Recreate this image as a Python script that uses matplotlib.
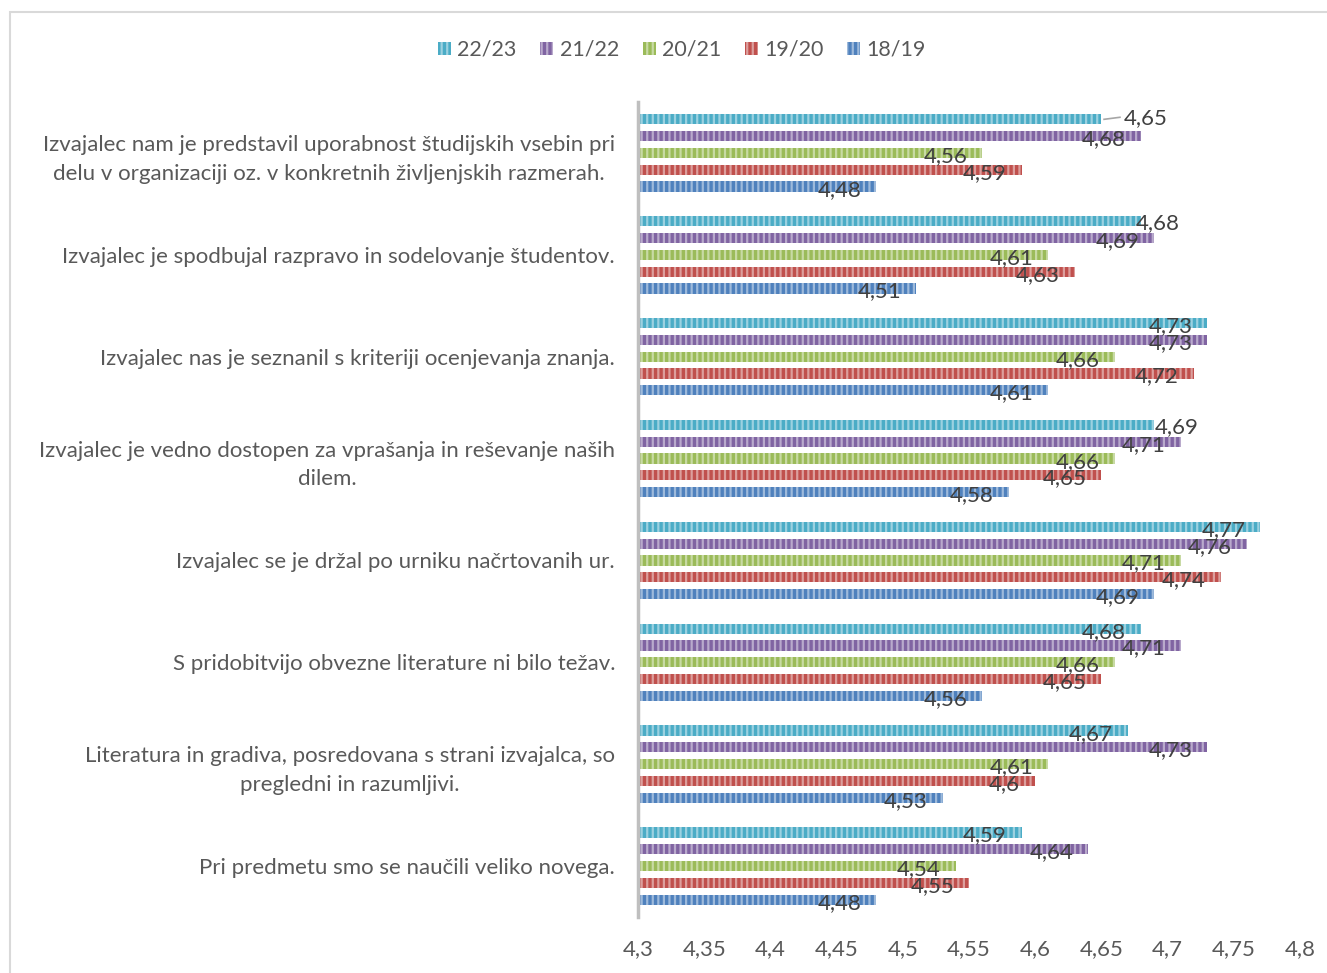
import matplotlib
matplotlib.use("Agg")
import matplotlib.pyplot as plt
from matplotlib.patches import Rectangle, Patch

# data
categories = [
    "Izvajalec nam je predstavil uporabnost študijskih vsebin pri\ndelu v organizaciji oz. v konkretnih življenjskih razmerah.",
    "Izvajalec je spodbujal razpravo in sodelovanje študentov.",
    "Izvajalec nas je seznanil s kriteriji ocenjevanja znanja.",
    "Izvajalec je vedno dostopen za vprašanja in reševanje naših\ndilem.",
    "Izvajalec se je držal po urniku načrtovanih ur.",
    "S pridobitvijo obvezne literature ni bilo težav.",
    "Literatura in gradiva, posredovana s strani izvajalca, so\npregledni in razumljivi.",
    "Pri predmetu smo se naučili veliko novega.",
]
series = ["22/23", "21/22", "20/21", "19/20", "18/19"]
v_2223 = [4.65, 4.68, 4.73, 4.69, 4.77, 4.68, 4.67, 4.59]
v_2122 = [4.68, 4.69, 4.73, 4.71, 4.76, 4.71, 4.73, 4.64]
v_2021 = [4.56, 4.61, 4.66, 4.66, 4.71, 4.66, 4.61, 4.54]
v_1920 = [4.59, 4.63, 4.72, 4.65, 4.74, 4.65, 4.60, 4.55]
v_1819 = [4.48, 4.51, 4.61, 4.58, 4.69, 4.56, 4.53, 4.48]
xticks = [4.3, 4.35, 4.4, 4.45, 4.5, 4.55, 4.6, 4.65, 4.7, 4.75, 4.8]

colors = ["#4bacc6", "#8064a2", "#9bbb59", "#c0504d", "#4f81bd"]


def lighten(c, f=0.45):
    r, g, b = matplotlib.colors.to_rgb(c)
    return (r + (1 - r) * f, g + (1 - g) * f, b + (1 - b) * f)


def fmt(v):
    s = ("%.2f" % v).rstrip("0").rstrip(".")
    return s.replace(".", ",")


plt.rcParams["font.family"] = ["Lato", "DejaVu Sans"]
plt.rcParams["hatch.linewidth"] = 1.6

fig = plt.figure(figsize=(13.27, 9.73), dpi=100)
ax = fig.add_axes([638 / 1327, 1 - 917 / 973, (1300 - 638) / 1327, 815 / 973])

# chart border
fig.patches.append(Rectangle((10 / 1327, -0.01), 1.02, 1 - 12 / 973 + 0.01,
                             transform=fig.transFigure, fill=False,
                             edgecolor="#d9d9d9", linewidth=1.5))

all_vals = [v_2223, v_2122, v_2021, v_1920, v_1819]
bar_h = 0.1
pitch = 0.165
txt_col = "#404040"
lab_fs = 16
dx = 0.0113

for j, vals in enumerate(all_vals):
    ys = [i + (j - 2) * pitch for i in range(len(categories))]
    lefts = [4.3] * len(vals)
    widths = [v - 4.3 for v in vals]
    ax.barh(ys, widths, left=lefts, height=bar_h, color=colors[j],
            edgecolor=lighten(colors[j]), linewidth=0, hatch="|||")
    for i, (y, v) in enumerate(zip(ys, vals)):
        if (i, j) == (0, 0):
            ax.plot([v + 0.002, v + 0.014], [y, y - 0.02], color="#a6a6a6", lw=1.2)
            ax.text(v + 0.017, y - 0.01, fmt(v), ha="left", va="center",
                    fontsize=lab_fs, color=txt_col)
        elif (i, j) in [(1, 0), (3, 0)]:
            ax.text(v - 0.004 if i == 1 else v, y + 0.02, fmt(v), ha="left",
                    va="center", fontsize=lab_fs, color=txt_col)
        else:
            ax.text(v - dx, y + 0.03, fmt(v), ha="right", va="center",
                    fontsize=lab_fs, color=txt_col)

ax.set_xlim(4.3, 4.8)
ax.set_ylim(len(categories) - 0.5, -0.5)
ax.set_xticks(xticks)
ax.set_xticklabels([fmt(t) for t in xticks], fontsize=16, color="#595959")
ax.set_yticks(range(len(categories)))
ax.set_yticklabels(categories, fontsize=16, color="#595959",
                   multialignment="center", linespacing=1.55)
ax.tick_params(axis="both", length=0)
ax.tick_params(axis="x", pad=16)
ax.tick_params(axis="y", pad=16.5)
for s in ["top", "right", "bottom"]:
    ax.spines[s].set_visible(False)
ax.spines["left"].set_color("#bfbfbf")
ax.spines["left"].set_linewidth(2.5)

handles = [Patch(facecolor=colors[j], edgecolor=lighten(colors[j]),
                 linewidth=0, hatch="|||") for j in range(len(series))]
fig.legend(handles, series, loc="center", bbox_to_anchor=(682 / 1327, 1 - 50 / 973),
           ncol=5, frameon=False, fontsize=15.5, labelcolor="#595959",
           handlelength=0.6, handleheight=0.6, handletextpad=0.3,
           columnspacing=1.1)

fig.savefig("out.png", dpi=100)
